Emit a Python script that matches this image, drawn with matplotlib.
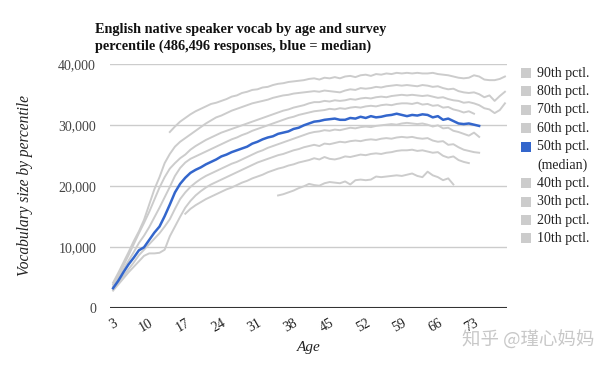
import matplotlib
matplotlib.use('Agg')
import matplotlib.pyplot as plt
from matplotlib.patches import Rectangle
import numpy as np

# vocab size per percentile, one value per year of age (first age given separately)
start_90 = 14
p90 = [28900, 29800, 30600, 31200, 31800, 32300, 32700, 33100, 33500, 33700,
       34000, 34300, 34700, 34900, 35300, 35500, 35800, 35900, 36200, 36300,
       36600, 36800, 36900, 37100, 37200, 37300, 37400, 37600, 37700, 37500,
       37800, 37700, 37900, 37700, 38000, 38100, 37900, 38200, 38300, 38100,
       38400, 38300, 38500, 38400, 38600, 38500, 38600, 38500, 38600, 38500,
       38500, 38600, 38400, 38300, 38200, 38000, 37800, 37700, 37800, 38200,
       38000, 37500, 37400, 37400, 37600, 38000]

start_80 = 3
p80 = [4200, 5800, 7500, 9200, 11000, 12600, 14500, 17000, 19500, 21500,
       23800, 25300, 26500, 27300, 27900, 28500, 29100, 29700, 30300, 30800,
       31300, 31600, 32000, 32400, 32700, 33000, 33300, 33600, 33800, 34000,
       34200, 34500, 34700, 34900, 35000, 35200, 35300, 35400, 35500, 35600,
       35500, 35700, 35600, 35500, 35400, 35700, 35900, 35800, 36100, 36000,
       36100, 36300, 36200, 36400, 36500, 36600, 36500, 36600, 36500, 36400,
       36600, 36500, 36300, 36400, 36100, 35900, 36000, 35600, 35400, 35300,
       35400, 35100, 34600, 34900, 34000, 34800, 35500]

start_70 = 3
p70 = [3900, 5400, 7000, 8700, 10500, 12300, 14000, 15800, 17800, 19800,
       21500, 22900, 23800, 24600, 25200, 26000, 26600, 27100, 27600, 28000,
       28400, 28800, 29100, 29400, 29700, 30000, 30300, 30600, 30900, 31200,
       31500, 31800, 32100, 32400, 32600, 32900, 33100, 33300, 33600, 33800,
       33800, 34000, 33900, 34100, 34000, 34100, 34300, 34200, 34400, 34500,
       34400, 34600, 34700, 34600, 34800, 34900, 35000, 34900, 35000, 34900,
       34800, 34900, 34700, 34500, 34600, 34300, 34100, 34000, 33700, 33800,
       33600, 33300, 32800, 32600, 32000, 32500, 33600]

start_60 = 3
p60 = [3600, 5000, 6400, 7800, 9200, 10700, 11900, 13300, 14900, 16500,
       18200, 19900, 21700, 23000, 23900, 24500, 24900, 25300, 25700, 26100,
       26500, 26900, 27300, 27700, 28000, 28400, 28700, 29100, 29400, 29700,
       30000, 30300, 30600, 30900, 31200, 31400, 31700, 31900, 32100, 32300,
       32400, 32500, 32700, 32600, 32800, 32700, 32900, 33000, 32900, 33100,
       33200, 33100, 33300, 33400, 33300, 33500, 33600, 33600, 33500, 33700,
       33400, 33500, 33200, 33300, 32900, 33000, 32600, 32400, 32100, 32300,
       31900]

start_50 = 3
p50 = [3300, 4500, 5900, 7200, 8300, 9500, 10000, 11200, 12400, 13400,
       15100, 17000, 19000, 20400, 21400, 22200, 22700, 23100, 23600, 24000,
       24400, 24900, 25200, 25600, 25900, 26200, 26500, 27000, 27300, 27700,
       28000, 28200, 28600, 28800, 29000, 29400, 29600, 30000, 30300, 30600,
       30700, 30900, 31000, 31100, 30900, 30900, 31200, 31100, 31400, 31200,
       31500, 31300, 31400, 31600, 31700, 31900, 31700, 31500, 31700, 31600,
       31800, 31700, 31300, 31500, 30900, 31100, 30700, 30300, 30200, 30300,
       30100, 29900]

start_40 = 3
p40 = [3100, 4200, 5300, 6400, 7500, 8700, 9600, 10500, 11400, 12300,
       13400, 14600, 16300, 17900, 19000, 19900, 20600, 21200, 21700, 22100,
       22500, 22900, 23300, 23700, 24000, 24400, 24800, 25200, 25600, 25900,
       26300, 26600, 26900, 27200, 27500, 27800, 28100, 28400, 28700, 28900,
       29000, 29200, 29100, 29300, 29200, 29400, 29600, 29500, 29700, 29800,
       29700, 29900, 30000, 30100, 30200, 30100, 30300, 30400, 30300, 30200,
       30300, 30100, 29800, 30000, 29500, 29600, 29100, 28900, 28600, 28300,
       28800, 28100]

start_30 = 3
p30 = [2900, 3900, 4900, 5900, 6800, 7700, 8600, 9000, 9000, 9100,
       9600, 11800, 13400, 15000, 16500, 17600, 18500, 19200, 19800, 20300,
       20700, 21100, 21500, 21900, 22300, 22700, 23100, 23500, 23900, 24200,
       24500, 24800, 25100, 25300, 25600, 25900, 26100, 26400, 26600, 26800,
       26600, 27000, 26900, 27100, 27300, 27200, 27400, 27500, 27400, 27600,
       27700, 27600, 27800, 27900, 27800, 28000, 28100, 28000, 28100, 27900,
       27800, 27900, 27500, 27300, 27400, 26800, 26900, 26400, 26000, 25800,
       25600, 25500]

start_20 = 17
p20 = [15500, 16300, 16900, 17400, 17900, 18300, 18700, 19100, 19500, 19800,
       20200, 20600, 20900, 21300, 21600, 21900, 22300, 22600, 22900, 23100,
       23400, 23600, 23900, 24100, 24300, 24600, 24400, 24800, 24500, 24400,
       24600, 24900, 24800, 25000, 25200, 25100, 25300, 25400, 25300, 25500,
       25600, 25800, 25900, 25900, 26000, 25800, 25900, 25700, 25500, 25600,
       25000, 24700, 24900, 24300, 24000, 23800]

start_10 = 35
p10 = [18500, 18700, 19000, 19300, 19700, 20000, 20400, 20200, 20100, 20500,
       20700, 20600, 20500, 20800, 20300, 21000, 21100, 21000, 21100, 21600,
       21500, 21600, 21700, 21800, 21700, 21900, 22100, 21700, 21500, 22400,
       21800, 21500, 21000, 21300, 20300]

age_ticks = [3, 10, 17, 24, 31, 38, 45, 52, 59, 66, 73]
y_ticks = [0, 10000, 20000, 30000, 40000]
legend_labels = ['90th pctl.', '80th pctl.', '70th pctl.', '60th pctl.',
                 '50th pctl.', '40th pctl.', '30th pctl.', '20th pctl.', '10th pctl.']

title = 'English native speaker vocab by age and survey\npercentile (486,496 responses, blue = median)'

GREY = '#cccccc'
BLUE = '#3366cc'
SERIF = 'Liberation Serif'

W, H = 609, 365
fig = plt.figure(figsize=(W / 100, H / 100), dpi=100)

# plot area in pixels: x 110..507, y 64..308
ax = fig.add_axes([110 / W, 1 - 308.3 / H, (507 - 110) / W, (308.3 - 64.3) / H])

series = [(start_90, p90), (start_80, p80), (start_70, p70), (start_60, p60),
          (start_40, p40), (start_30, p30), (start_20, p20), (start_10, p10)]
for start, vals in series:
    ages = np.arange(start, start + len(vals))
    ax.plot(ages, vals, color=GREY, lw=1.4, solid_joinstyle='round', zorder=2)

ages_50 = np.arange(start_50, start_50 + len(p50))
ax.plot(ages_50, p50, color=BLUE, lw=1.8, solid_joinstyle='round', zorder=3)

ax.set_xlim(2.4, 79.4)
ax.set_ylim(0, 40000)
ax.set_yticks(y_ticks)
ax.set_yticklabels(['{:,}'.format(v) for v in y_ticks])
ax.set_xticks(age_ticks)
ax.set_xticklabels([str(a) for a in age_ticks], rotation=30, ha='right',
                   rotation_mode='anchor')

for s in ax.spines.values():
    s.set_visible(False)
ax.yaxis.grid(True, color=GREY, lw=1)
ax.set_axisbelow(True)
ax.axhline(0, color='#333333', lw=1.5, zorder=1)

ax.tick_params(axis='y', length=0, pad=10, labelsize=10, labelcolor='#444444')
ax.tick_params(axis='x', length=0, pad=6, labelsize=10, labelcolor='#222222')
for lab in ax.get_xticklabels() + ax.get_yticklabels():
    lab.set_fontfamily(SERIF)

fig.text(95 / W, 1 - 23 / H, title, ha='left', va='top', fontsize=10.3,
         fontweight='bold', family=SERIF, color='#111111', linespacing=1.3)

fig.text(25 / W, 1 - 185 / H, 'Vocabulary size by percentile', rotation=90,
         ha='center', va='center', fontsize=11.2, style='italic', family=SERIF,
         color='#222222')
fig.text(309 / W, 1 - 348 / H, 'Age', ha='center', va='center', fontsize=11,
         style='italic', family=SERIF, color='#222222')

# legend on the right, drawn by hand
y_pos = 73
for i, lab in enumerate(legend_labels):
    color = BLUE if i == 4 else GREY
    fig.add_artist(Rectangle((521 / W, 1 - (y_pos + 5) / H), 10 / W, 10 / H,
                             transform=fig.transFigure, color=color, lw=0))
    fig.text(537 / W, 1 - y_pos / H, lab, ha='left', va='center', fontsize=10,
             family=SERIF, color='#222222')
    if i == 4:
        y_pos += 18.2
        fig.text(537 / W, 1 - y_pos / H, '(median)', ha='left', va='center',
                 fontsize=10, family=SERIF, color='#222222')
    y_pos += 18.4

fig.text(462 / W, 1 - 340 / H, '知乎 @瑾心妈妈', ha='left', va='center',
         fontsize=13.3, color='#c8c8c8', family=['Noto Sans CJK SC', 'DejaVu Sans'])

fig.savefig('out.png', dpi=100)
